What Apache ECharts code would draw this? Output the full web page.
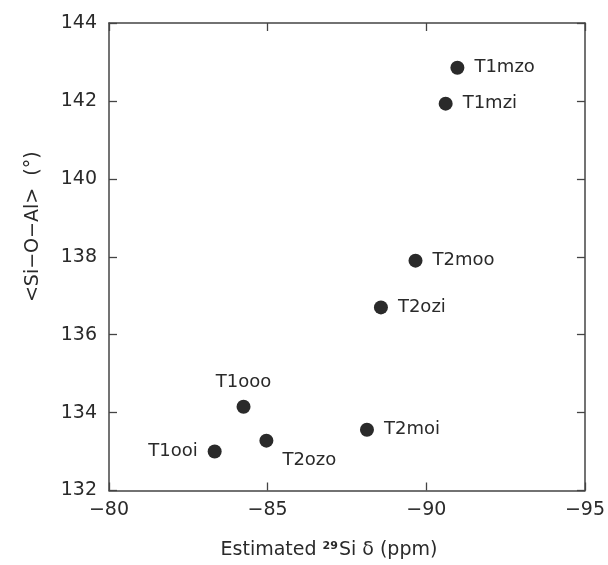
<!DOCTYPE html>
<html>
<head>
<meta charset="utf-8">
<script src="https://cdn.jsdelivr.net/npm/echarts@6/dist/echarts.min.js"></script>
<style>
  html, body { margin: 0; padding: 0; background: #fff; }
  #chart { width: 608px; height: 565px; }
</style>
</head>
<body>
<div id="chart"></div>
<script>
// site labels, estimated 29Si shift (ppm), mean Si-O-Al angle (deg)
const sites  = ['T1mzo', 'T1mzi', 'T2moo', 'T2ozi', 'T1ooo', 'T2moi', 'T2ozo', 'T1ooi']
const shifts = [-90.98, -90.61, -89.66, -88.57, -84.24, -88.13, -84.96, -83.33]
const angles = [142.85, 141.93, 137.90, 136.70, 134.15, 133.56, 133.28, 133.00]
const xTicks = [-80, -85, -90, -95]
const yTicks = [132, 134, 136, 138, 140, 142, 144]

const ink = '#2a2a2a'
const font = 'DejaVu Sans'

// where each label sits relative to its dot
const labelPos = {
  T1ooo: { position: 'top', distance: 8 },
  T2ozo: { position: 'right', distance: 9, offset: [0, 20] },
  T1ooi: { position: 'left', distance: 10 },
}

const points = sites.map((name, i) => ({
  name,
  value: [shifts[i], angles[i]],
  label: labelPos[name] || { position: 'right', distance: 10 },
}))

const axisLine = { lineStyle: { color: '#444', width: 1.5 } }
const tick = { inside: true, length: 8, lineStyle: { color: '#444', width: 1.3 } }

const chart = echarts.init(document.getElementById('chart'))
chart.setOption({
  backgroundColor: '#fff',
  animation: false,
  grid: { left: 109, right: 21, top: 23, bottom: 72 },
  xAxis: [
    {
      type: 'value', inverse: true,
      min: xTicks[xTicks.length - 1], max: xTicks[0], interval: 5,
      axisLine, axisTick: tick, splitLine: { show: false },
      axisLabel: { color: ink, fontFamily: font, fontSize: 19, margin: 10,
        formatter: v => String(v).replace('-', '\u2212') },
      name: '{n|Estimated }{s|29}{n|Si \u03b4 (ppm)}',
      nameLocation: 'middle', nameGap: 50,
      nameTextStyle: {
        padding: [0, 36, 0, 0],
        rich: {
          n: { color: ink, fontFamily: font, fontSize: 19 },
          s: { color: ink, fontFamily: font, fontSize: 11, fontWeight: 'bold', verticalAlign: 'top', padding: [0, 1, 9, 0] },
        },
      },
    },
    {
      type: 'value', inverse: true, position: 'top',
      min: xTicks[xTicks.length - 1], max: xTicks[0], interval: 5,
      axisLine, axisTick: tick, axisLabel: { show: false }, splitLine: { show: false },
    },
  ],
  yAxis: [
    {
      type: 'value',
      min: yTicks[0], max: yTicks[yTicks.length - 1], interval: 2,
      axisLine, axisTick: tick, splitLine: { show: false },
      axisLabel: { color: ink, fontFamily: font, fontSize: 19, margin: 12 },
      name: '<Si\u2212O\u2212Al>  (\u00b0)',
      nameLocation: 'middle', nameGap: 66,
      nameTextStyle: { color: ink, fontFamily: font, fontSize: 19, padding: [0, 0, 0, 60] },
    },
    {
      type: 'value', position: 'right',
      min: yTicks[0], max: yTicks[yTicks.length - 1], interval: 2,
      axisLine, axisTick: tick, axisLabel: { show: false }, splitLine: { show: false },
    },
  ],
  series: [{
    type: 'scatter',
    symbol: 'circle',
    symbolSize: 14,
    itemStyle: { color: ink, opacity: 1 },
    label: {
      show: true,
      formatter: p => p.name,
      color: ink, fontFamily: font, fontSize: 18,
    },
    data: points,
  }],
})
</script>
</body>
</html>
